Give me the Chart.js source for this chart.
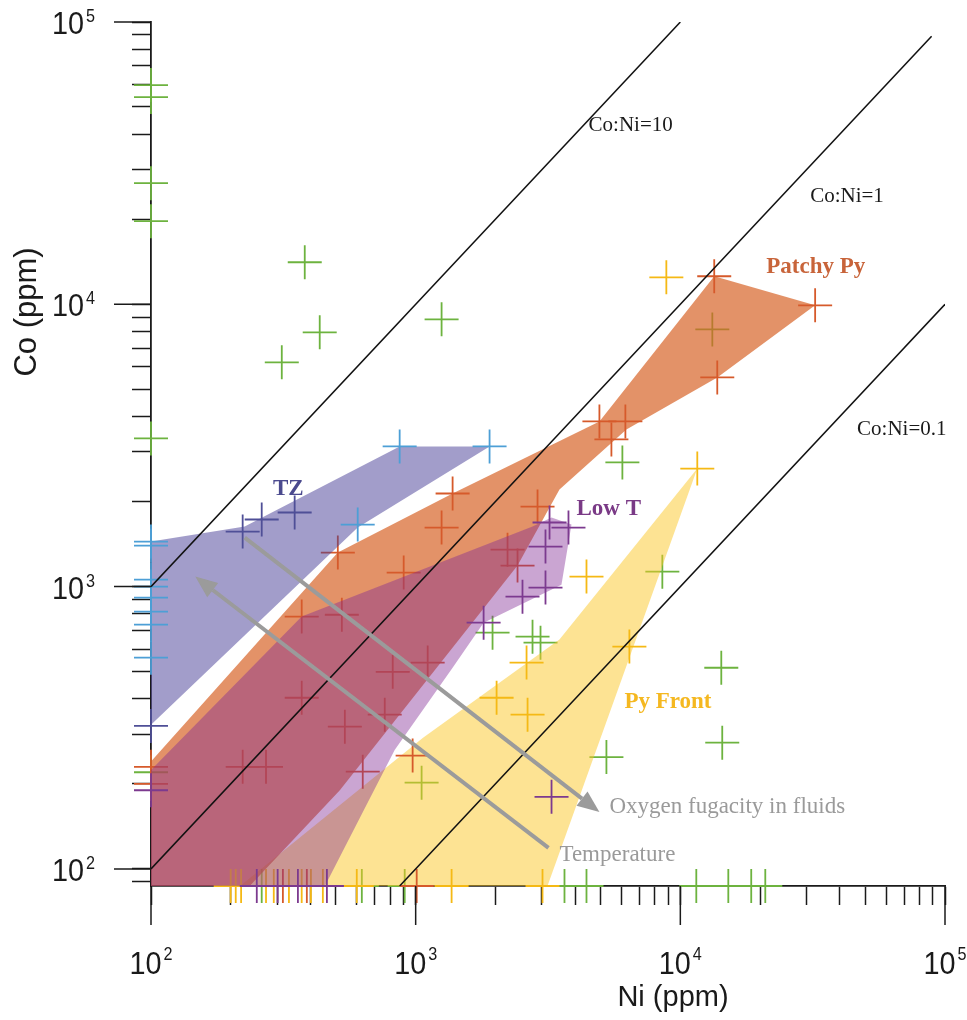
<!DOCTYPE html>
<html>
<head>
<meta charset="utf-8">
<script src="https://cdn.jsdelivr.net/npm/chart.js@4.4.0/dist/chart.umd.min.js"></script>
<style>
  html, body { margin: 0; padding: 0; background: #fff; }
  #wrap { width: 967px; height: 1020px; position: relative; }
</style>
</head>
<body>
<div id="wrap"><canvas id="coNi"></canvas></div>
<script>
/* Co vs Ni scatter - pyrite generations */

// axis range
const niMin = 100, niMax = 100000;
const coMin = 87, coMax = 100000;
const decades = [2, 3, 4, 5];          // tick labels 10^2 .. 10^5

// green crosses (no field)
const greenNi = [100, 100, 100, 100, 100, 100, 381, 434, 312, 1253, 13210, 6040, 8551, 14280, 14400, 5257, 1053, 1952, 2764, 2963,
  262, 626, 909, 3650, 4420, 11490, 15180, 18530, 20940];
const greenCo = [59770, 54200, 26860, 19700, 3348, 220, 14090, 7955, 6228, 8848, 8147, 2753, 1130, 516, 280, 249, 202, 687, 665, 633,
  87, 87, 87, 87, 87, 87, 87, 87, 87];

// light blue crosses
const blueNi = [100, 100, 100, 100, 100, 100, 100, 100, 870, 1902, 604];
const blueCo = [1444, 1397, 1059, 1000, 914, 815, 733, 560, 3137, 3137, 1659];

// TZ
const tzNi = [222, 262, 349, 100];
const tzCo = [1567, 1729, 1830, 321];

// Low T
const lowTNi = [3205, 3779, 3094, 3094, 2533, 1806, 3261, 100, 251, 301, 359, 462];
const lowTCo = [1687, 1619, 1386, 992, 921, 745, 180, 190, 87, 87, 87, 87];

// Patchy Py
const patchyNi = [13430, 32310, 13790, 4946, 5490, 6200, 1379, 1253, 901, 508, 2887, 2224, 2426, 631, 819,
  371, 371, 222, 272, 526, 540, 764, 974, 1110, 100, 100, 315, 388, 1009];
const patchyCo = [12570, 9920, 5510, 3847, 3321, 3847, 2137, 1619, 1121, 1320, 1921, 1352, 1187, 221, 499,
  783, 404, 230, 230, 795, 319, 352, 252, 538, 230, 200, 87, 87, 87];

// Py Front
const pyFrontNi = [8854, 11590, 4420, 6420, 2624, 2022, 2647, 200, 209, 219, 272, 291, 332, 371, 402, 446, 599, 1367, 3015];
const pyFrontCo = [12460, 2620, 1085, 613, 538, 404, 352, 87, 87, 87, 87, 87, 87, 87, 87, 87, 87, 87, 87];

// fields (outlines)
const tzFieldNi = [100, 226, 870, 1902, 604, 100];
const tzFieldCo = [1444, 1632, 3137, 3137, 1619, 324];
const patchyFieldNi = [100, 508, 1379, 4946, 13430, 32310, 13790, 6255, 3494, 2426, 517, 236, 100];
const patchyFieldCo = [240, 1320, 2137, 3847, 12570, 9920, 5510, 3602, 2208, 1187, 190, 87, 87];
const lowTFieldNi = [100, 371, 2764, 3261, 3879, 3555, 1806, 1379, 833, 454, 100];
const lowTFieldCo = [224, 783, 1632, 1757, 1659, 1016, 745, 516, 264, 87, 87];
const pyFrontFieldNi = [11590, 3494, 1063, 217, 3148];
const pyFrontFieldCo = [2620, 649, 291, 87, 87];

// Co:Ni reference lines
const ratioNames = ['Co:Ni=10', 'Co:Ni=1', 'Co:Ni=0.1'];
const ratioNi = [[100, 10000], [100, 89000], [870, 100000]];
const ratioCo = [[1000, 100000], [100, 89000], [87, 10000]];

// text + arrows, placed in data coords
const notes = [
  { text: ratioNames[0], ni: 4500, co: 43000, font: '21px "Liberation Serif", "Times New Roman", serif', color: '#1a1a1a' },
  { text: ratioNames[1], ni: 30940, co: 24000, font: '21px "Liberation Serif", "Times New Roman", serif', color: '#1a1a1a' },
  { text: ratioNames[2], ni: 46550, co: 3602, font: '21px "Liberation Serif", "Times New Roman", serif', color: '#1a1a1a' },
  { text: 'Patchy Py', ni: 21110, co: 13530, font: 'bold 23px "Liberation Serif", serif', color: '#c8643a' },
  { text: 'TZ', ni: 289, co: 2208, font: 'bold 23px "Liberation Serif", serif', color: '#4b4a8e' },
  { text: 'Low T', ni: 4050, co: 1875, font: 'bold 23px "Liberation Serif", serif', color: '#7a3a86' },
  { text: 'Py Front', ni: 6148, co: 391, font: 'bold 23px "Liberation Serif", serif', color: '#f5b820' },
  { text: 'Oxygen fugacity in fluids', ni: 5396, co: 166, font: '23px "Liberation Serif", serif', color: '#9a9a9a' },
  { text: 'Temperature', ni: 3494, co: 112, font: '23px "Liberation Serif", serif', color: '#9a9a9a' }
];
const arrows = [
  { ni: [226, 4946], co: [1492, 159] },
  { ni: [3176, 147], co: [118.7, 1085] }
];

const axisColor = '#1a1a1a';
const pts = (xs, ys) => xs.map((v, i) => ({ x: v, y: ys[i] }));

function logTicks(lo, hi) {
  const out = [];
  for (let e = 1; e <= 5; e++) {
    for (let m = 1; m <= 9; m++) {
      const v = m * Math.pow(10, e);
      if (v >= lo && v <= hi) out.push(v);
    }
  }
  return out;
}

function crosses(data, color, order) {
  return {
    data: data, order: order, showLine: false, clip: false,
    pointStyle: 'cross', pointRadius: 17, pointHoverRadius: 17,
    pointBorderWidth: 1.8, pointHoverBorderWidth: 1.8,
    borderColor: color, backgroundColor: color
  };
}
function field(data, color, order) {
  return {
    data: data, order: order, showLine: true, fill: 'shape',
    backgroundColor: color, borderColor: 'rgba(0,0,0,0)', borderWidth: 1,
    pointRadius: 0, pointHoverRadius: 0, tension: 0
  };
}

function scaledText(ctx, txt, x, y, size, sx) {
  ctx.save();
  ctx.font = size + 'px "Liberation Sans", Arial, sans-serif';
  ctx.translate(x, y);
  ctx.scale(sx, 1);
  ctx.fillText(txt, 0, 0);
  ctx.restore();
}

function drawArrow(ctx, x0, y0, x1, y1) {
  const ang = Math.atan2(y1 - y0, x1 - x0);
  const headLen = 22, headW = 9;
  const bx = x1 - headLen * Math.cos(ang), by = y1 - headLen * Math.sin(ang);
  ctx.beginPath();
  ctx.moveTo(x0, y0);
  ctx.lineTo(bx, by);
  ctx.stroke();
  ctx.beginPath();
  ctx.moveTo(x1, y1);
  ctx.lineTo(bx + headW * Math.sin(ang), by - headW * Math.cos(ang));
  ctx.lineTo(bx - headW * Math.sin(ang), by + headW * Math.cos(ang));
  ctx.closePath();
  ctx.fill();
}

const overlay = {
  id: 'overlay',
  afterDraw(chart) {
    const ctx = chart.ctx, area = chart.chartArea;
    const xs = chart.scales.x, ys = chart.scales.y;
    ctx.save();

    // arrows
    ctx.strokeStyle = '#9b9b9b';
    ctx.fillStyle = '#9b9b9b';
    ctx.lineWidth = 4;
    arrows.forEach(a => {
      drawArrow(ctx, xs.getPixelForValue(a.ni[0]), ys.getPixelForValue(a.co[0]),
        xs.getPixelForValue(a.ni[1]), ys.getPixelForValue(a.co[1]));
    });

    // labels in the plot
    ctx.textAlign = 'left';
    ctx.textBaseline = 'middle';
    notes.forEach(n => {
      ctx.font = n.font;
      ctx.fillStyle = n.color;
      ctx.fillText(n.text, xs.getPixelForValue(n.ni), ys.getPixelForValue(n.co));
    });

    // longer decade marks
    ctx.strokeStyle = axisColor;
    ctx.lineWidth = 1.5;
    decades.forEach(e => {
      const v = Math.pow(10, e);
      const px = xs.getPixelForValue(v);
      ctx.beginPath();
      ctx.moveTo(px, area.bottom);
      ctx.lineTo(px, area.bottom + 39);
      ctx.stroke();
      const py = ys.getPixelForValue(v);
      ctx.beginPath();
      ctx.moveTo(area.left, py);
      ctx.lineTo(area.left - 37, py);
      ctx.stroke();
    });

    // decade labels 10^n
    const sx = 0.9;
    ctx.fillStyle = axisColor;
    ctx.textBaseline = 'alphabetic';
    ctx.textAlign = 'left';
    decades.forEach(e => {
      const v = Math.pow(10, e);
      ctx.font = '32px "Liberation Sans", Arial, sans-serif';
      const w10 = ctx.measureText('10').width * sx;
      ctx.font = '18px "Liberation Sans", Arial, sans-serif';
      const wE = ctx.measureText(String(e)).width * sx;

      const px = xs.getPixelForValue(v);
      const left = px - (w10 + 2 + wE) / 2;
      scaledText(ctx, '10', left, area.bottom + 88, 32, sx);
      scaledText(ctx, String(e), left + w10 + 2, area.bottom + 74, 18, sx);

      const py = ys.getPixelForValue(v);
      scaledText(ctx, '10', area.left - 67 - w10, py + 12, 32, sx);
      scaledText(ctx, String(e), area.left - 65, py, 18, sx);
    });

    // axis titles
    ctx.textAlign = 'center';
    ctx.textBaseline = 'middle';
    ctx.font = '29px "Liberation Sans", Arial, sans-serif';
    ctx.fillText('Ni (ppm)', 673, 998);
    ctx.save();
    ctx.translate(27, 312);
    ctx.rotate(-Math.PI / 2);
    ctx.font = '31px "Liberation Sans", Arial, sans-serif';
    ctx.fillText('Co (ppm)', 0, 0);
    ctx.restore();

    ctx.restore();
  }
};

const datasets = [];
ratioNi.forEach((n, i) => {
  datasets.push({
    label: ratioNames[i], data: pts(n, ratioCo[i]), order: 1,
    showLine: true, fill: false, borderColor: '#111', borderWidth: 1.5,
    pointRadius: 0, pointHoverRadius: 0
  });
});
datasets.push(crosses(pts(blueNi, blueCo), '#4d9fd6', 3));
datasets.push(crosses(pts(tzNi, tzCo), '#4f4f97', 4));
datasets.push(field(pts(tzFieldNi, tzFieldCo), 'rgba(70,60,150,0.5)', 5));
datasets.push(crosses(pts(lowTNi, lowTCo), '#7c3a8f', 6));
datasets.push(field(pts(lowTFieldNi, lowTFieldCo), 'rgba(128,40,148,0.42)', 7));
datasets.push(crosses(pts(pyFrontNi, pyFrontCo), '#f5b915', 8));
datasets.push(crosses(pts(patchyNi, patchyCo), '#d65a2b', 9));
datasets.push(field(pts(patchyFieldNi, patchyFieldCo), 'rgba(215,100,40,0.7)', 10));
datasets.push(field(pts(pyFrontFieldNi, pyFrontFieldCo), 'rgba(252,200,40,0.5)', 11));
datasets.push(crosses(pts(greenNi, greenCo), '#6db33f', 12));

const chart = new Chart(document.getElementById('coNi'), {
  type: 'scatter',
  data: { datasets: datasets },
  options: {
    responsive: true,
    maintainAspectRatio: false,
    animation: false,
    events: [],
    layout: { padding: { top: 22, right: 22, left: 0, bottom: 0 } },
    plugins: {
      legend: { display: false },
      tooltip: { enabled: false }
    },
    scales: {
      x: {
        type: 'logarithmic', position: 'bottom', min: niMin, max: niMax,
        afterBuildTicks: s => { s.ticks = logTicks(niMin, niMax).map(v => ({ value: v })); },
        afterFit: s => { s.height = 134; },
        ticks: { display: false },
        grid: { display: true, drawOnChartArea: false, drawTicks: true, tickLength: 19, tickColor: axisColor, tickWidth: 1.5 },
        border: { display: true, color: axisColor, width: 1.8 }
      },
      y: {
        type: 'logarithmic', position: 'left', min: coMin, max: coMax,
        afterBuildTicks: s => { s.ticks = logTicks(90, coMax).map(v => ({ value: v })); },
        afterFit: s => { s.width = 151; },
        ticks: { display: false },
        grid: { display: true, drawOnChartArea: false, drawTicks: true, tickLength: 19, tickColor: axisColor, tickWidth: 1.5 },
        border: { display: true, color: axisColor, width: 1.8 }
      }
    }
  },
  plugins: [overlay]
});
</script>
</body>
</html>
